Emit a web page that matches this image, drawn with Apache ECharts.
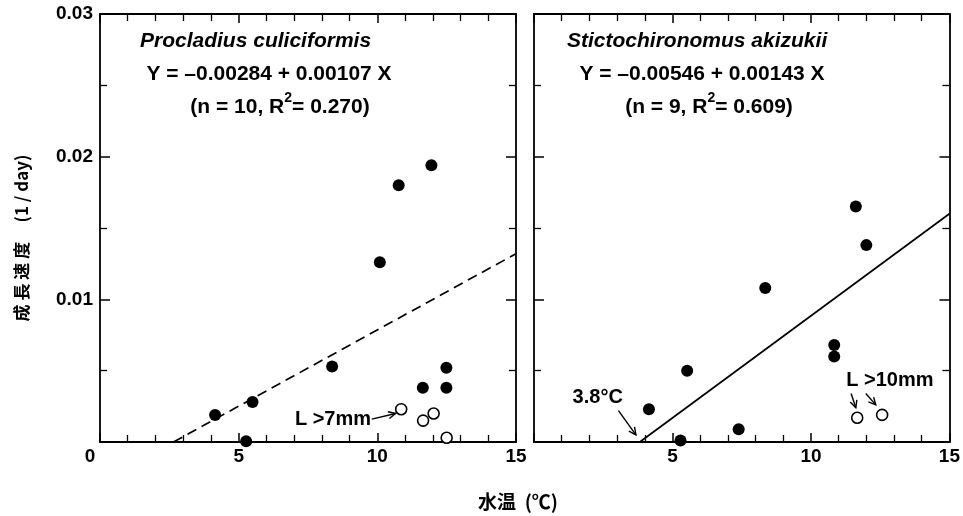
<!DOCTYPE html>
<html><head><meta charset="utf-8">
<script src="https://cdn.jsdelivr.net/npm/echarts@6/dist/echarts.min.js"></script>
<style>html,body{margin:0;padding:0;background:#fff}#c{width:963px;height:516px}</style>
</head><body><div id="c"></div>
<script>
// ---- data ----
const xMin = 0, xMax = 15;
const yMin = 0, yMax = 0.03;
const panelTitles = ['Procladius culiciformis', 'Stictochironomus akizukii'];
const equations = ['Y = \u20130.00284 + 0.00107 X', 'Y = \u20130.00546 + 0.00143 X'];
const statN = ['10', '9'];
const statR2 = ['0.270', '0.609'];

const procFilledX = [4.15, 5.27, 5.5, 8.37, 10.09, 10.77, 11.95, 11.64, 12.49, 12.49];
const procFilledY = [0.0019, 0.00005, 0.0028, 0.0053, 0.0126, 0.0180, 0.0194, 0.0038, 0.0052, 0.0038];
const procOpenX = [10.86, 11.65, 12.03, 12.5];
const procOpenY = [0.0023, 0.0015, 0.0020, 0.0003];
const procLineX = [2.65, 15];
const procLineY = [0, 0.0132];

const stictFilledX = [4.15, 5.29, 5.53, 7.39, 8.35, 10.84, 10.84, 11.62, 12.0];
const stictFilledY = [0.0023, 0.0001, 0.0050, 0.0009, 0.0108, 0.0068, 0.0060, 0.0165, 0.0138];
const stictOpenX = [11.67, 12.57];
const stictOpenY = [0.0017, 0.0019];
const stictLineX = [3.82, 15];
const stictLineY = [0, 0.0160];

// annotation anchors in data units
const annoTexts = [
  {grid: 0, text: 'L >7mm', x: 8.4, y: 0.0016},
  {grid: 1, text: '3.8\u00b0C', x: 2.3, y: 0.0031},
  {grid: 1, text: 'L >10mm', x: 12.85, y: 0.0043}
];
const annoArrows = [
  {grid: 0, from: [9.8, 0.0016], to: [10.66, 0.0020]},
  {grid: 1, from: [3.05, 0.0022], to: [3.68, 0.0005]},
  {grid: 1, from: [11.45, 0.0034], to: [11.62, 0.0024]},
  {grid: 1, from: [11.98, 0.0034], to: [12.34, 0.0026]}
];

const zip = (xs, ys) => xs.map((x, i) => [x, ys[i]]);
const FONT = "'Liberation Sans', Arial, sans-serif";
const CJK = "'Noto Sans CJK JP', sans-serif";
const black = '#000';

function xAxisDef(grid, pos, showLabels) {
  return {
    type: 'value', gridIndex: grid, position: pos, min: xMin, max: xMax, interval: 5,
    axisLine: {show: true, onZero: false, lineStyle: {color: black, width: 1.8}},
    axisTick: {show: true, inside: true, length: 9, lineStyle: {color: black, width: 1.5}},
    minorTick: {show: true, splitNumber: 5, length: 7, lineStyle: {color: black, width: 1.3}},
    splitLine: {show: false},
    axisLabel: {
      show: showLabels, color: black, fontFamily: FONT, fontWeight: 'bold', fontSize: 19, margin: 5,
      showMinLabel: grid === 0,
      formatter: v => v === 0 ? '{z|0}' : String(v),
      rich: {z: {fontFamily: FONT, fontWeight: 'bold', fontSize: 19, color: black, padding: [0, 20, 0, 0]}}
    }
  };
}
function yAxisDef(grid, pos, showLabels) {
  return {
    type: 'value', gridIndex: grid, position: pos, min: yMin, max: yMax, interval: 0.01,
    axisLine: {show: true, onZero: false, lineStyle: {color: black, width: 1.8}},
    axisTick: {show: true, inside: true, length: 10, lineStyle: {color: black, width: 1.5}},
    minorTick: {show: true, splitNumber: 2, length: 7, lineStyle: {color: black, width: 1.3}},
    splitLine: {show: false},
    axisLabel: {
      show: showLabels, color: black, fontFamily: FONT, fontWeight: 'bold', fontSize: 19, margin: 7,
      showMinLabel: false,
      formatter: v => v.toFixed(2)
    }
  };
}

const filledStyle = {color: black, opacity: 1};
const openStyle = {color: '#fff', borderColor: black, borderWidth: 1.6, opacity: 1};

const chart = echarts.init(document.getElementById('c'), null, {renderer: 'canvas'});
const option = {
  animation: false,
  backgroundColor: '#fff',
  grid: [
    {left: 100, top: 14, width: 416, height: 428},
    {left: 534, top: 14, width: 417, height: 428}
  ],
  xAxis: [
    xAxisDef(0, 'bottom', true), xAxisDef(0, 'top', false),
    xAxisDef(1, 'bottom', true), xAxisDef(1, 'top', false)
  ],
  yAxis: [
    yAxisDef(0, 'left', true), yAxisDef(0, 'right', false),
    yAxisDef(1, 'left', false), yAxisDef(1, 'right', false)
  ],
  series: [
    {type: 'line', xAxisIndex: 0, yAxisIndex: 0, data: zip(procLineX, procLineY), symbol: 'none',
     lineStyle: {color: black, width: 1.7, type: [10, 6]}, z: 2},
    {type: 'scatter', xAxisIndex: 0, yAxisIndex: 0, data: zip(procFilledX, procFilledY), symbolSize: 12,
     itemStyle: filledStyle, z: 3},
    {type: 'scatter', xAxisIndex: 0, yAxisIndex: 0, data: zip(procOpenX, procOpenY), symbolSize: 11,
     itemStyle: openStyle, z: 3},
    {type: 'line', xAxisIndex: 2, yAxisIndex: 2, data: zip(stictLineX, stictLineY), symbol: 'none',
     lineStyle: {color: black, width: 1.7}, z: 2},
    {type: 'scatter', xAxisIndex: 2, yAxisIndex: 2, data: zip(stictFilledX, stictFilledY), symbolSize: 12,
     itemStyle: filledStyle, z: 3},
    {type: 'scatter', xAxisIndex: 2, yAxisIndex: 2, data: zip(stictOpenX, stictOpenY), symbolSize: 11,
     itemStyle: openStyle, z: 3}
  ]
};
chart.setOption(option);

function txt(x, y, text, opts) {
  return {
    type: 'text', x: x, y: y, z: 10,
    style: Object.assign({text: text, fill: black, font: 'bold 20px ' + FONT, align: 'center', verticalAlign: 'middle'}, opts || {})
  };
}
const graphics = [];
// panel titles and equations
const titleLeft = [140, 567];
const eqCenter = [269, 702];
const statCenter = [280, 709];
for (let g = 0; g < 2; g++) {
  graphics.push(txt(titleLeft[g], 41, panelTitles[g], {font: 'italic bold 21px ' + FONT, align: 'left'}));
  graphics.push(txt(eqCenter[g], 74, equations[g], {font: 'bold 21px ' + FONT}));
  graphics.push(txt(statCenter[g], 107, '(n = ' + statN[g] + ', R{s|2}= ' + statR2[g] + ')', {
    font: 'bold 21px ' + FONT,
    rich: {s: {fontFamily: FONT, fontWeight: 'bold', fontSize: 14, fill: black, padding: [0, 0, 18, 0]}}
  }));
}
// annotation texts anchored to data coordinates
annoTexts.forEach(a => {
  const p = chart.convertToPixel({gridIndex: a.grid}, [a.x, a.y]);
  graphics.push(txt(p[0], p[1], a.text, {font: 'bold 20px ' + FONT}));
});
// annotation arrows (open V heads) anchored to data coordinates
annoArrows.forEach(a => {
  const p1 = chart.convertToPixel({gridIndex: a.grid}, a.from);
  const p2 = chart.convertToPixel({gridIndex: a.grid}, a.to);
  const ang = Math.atan2(p2[1] - p1[1], p2[0] - p1[0]);
  const hl = 8, hw = 0.45;
  const h1 = [p2[0] - hl * Math.cos(ang - hw), p2[1] - hl * Math.sin(ang - hw)];
  const h2 = [p2[0] - hl * Math.cos(ang + hw), p2[1] - hl * Math.sin(ang + hw)];
  graphics.push({type: 'polyline', z: 10, shape: {points: [p1, p2]}, style: {stroke: black, lineWidth: 1.4, fill: null}});
  graphics.push({type: 'polyline', z: 10, shape: {points: [h1, p2, h2]}, style: {stroke: black, lineWidth: 1.4, fill: null}});
});
// axis titles
graphics.push({
  type: 'text', x: 22, y: 238, rotation: Math.PI / 2, z: 10,
  style: {text: '成 長 速 度     (1 / day)', fill: black, font: 'bold 17px ' + CJK, align: 'center', verticalAlign: 'middle'}
});
graphics.push(txt(518, 502, '水温  (℃)', {font: 'bold 19px ' + CJK}));

chart.setOption({graphic: graphics});
</script>
</body></html>
